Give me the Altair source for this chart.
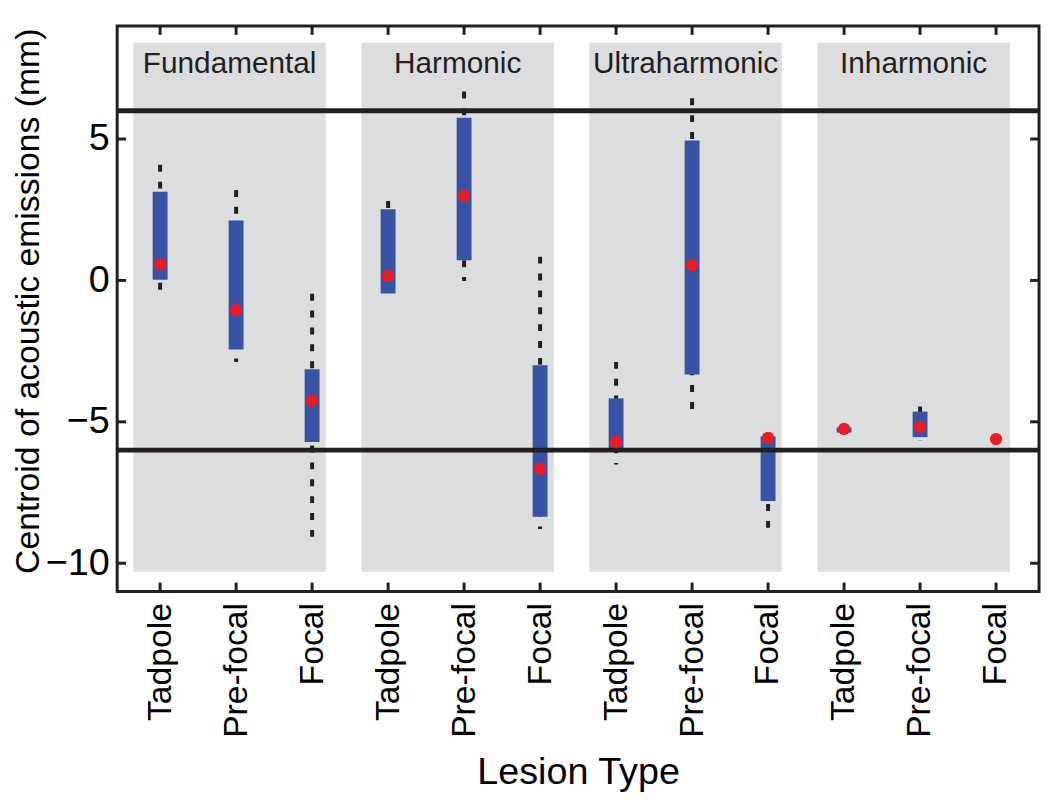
import json
import altair as alt
import pandas as pd

# ---------------- data ----------------
groups = ["Fundamental", "Harmonic", "Ultraharmonic", "Inharmonic"]
lesions = ["Tadpole", "Pre-focal", "Focal"]

median = [0.57, -1.05, -4.25, 0.16, 2.99, -6.66, -5.71, 0.54, -5.57, -5.25, -5.18, -5.61]
box_hi = [3.14, 2.12, -3.14, 2.52, 5.75, -3.00, -4.17, 4.95, -5.52, -5.20, -4.64, -5.61]
box_lo = [0.02, -2.44, -5.71, -0.46, 0.71, -8.36, -6.05, -3.33, -7.80, -5.38, -5.54, -5.61]
whisk_hi = [4.09, 3.20, -0.47, 2.81, 6.68, 0.84, -2.88, 6.44, -5.52, -5.25, -4.46, -5.61]
whisk_lo = [-0.43, -2.88, -9.14, -0.50, -0.02, -8.79, -6.51, -4.60, -9.02, -5.25, -5.66, -5.61]

limits = [6, -6]
y_ticks = [-10, -5, 0, 5]

# ---------------- tables ----------------
n = len(groups) * len(lesions)
idx = list(range(1, n + 1))
df = pd.DataFrame({
    "idx": idx,
    "lesion": [l for g in groups for l in lesions],
    "group": [g for g in groups for _ in lesions],
    "median": median,
    "box_hi": box_hi,
    "box_lo": box_lo,
    "whisk_hi": whisk_hi,
    "whisk_lo": whisk_lo,
})
gdf = pd.DataFrame({
    "group": groups,
    "x0": [3 * k + 0.65 for k in range(len(groups))],
    "x1": [3 * k + 3.18 for k in range(len(groups))],
    "top": [8.4] * len(groups),
    "bottom": [-10.3] * len(groups),
    "ylab": [7.35] * len(groups),
})
gdf["xc"] = (gdf["x0"] + gdf["x1"]) / 2
lim_df = pd.DataFrame({"y": limits})
yt_df = pd.DataFrame({"y": y_ticks})

FONT = "Liberation Sans"
W, H = 929, 570

xscale = alt.Scale(domain=[0.5, n + 0.5], nice=False, zero=False)
yscale = alt.Scale(domain=[-11, 9], nice=False, zero=False)

label_expr = "%s[(datum.value - 1) %% 3]" % json.dumps(lesions)
xaxis = alt.Axis(values=idx, labelExpr=label_expr, labelAngle=270, labelFontSize=34,
                 labelPadding=11, ticks=False, domain=False, grid=False,
                 title="Lesion Type", titleFontSize=38, titleFontWeight="normal",
                 titleY=163, titleX=W / 2, labelColor="black", titleColor="black")
yaxis = alt.Axis(values=y_ticks, labelFontSize=38, labelPadding=8, ticks=False,
                 domain=False, grid=False,
                 title="Centroid of acoustic emissions (mm)", titleFontSize=34,
                 titleFontWeight="normal", titleX=-72, titleY=277,
                 labelColor="black", titleColor="black")


def X(field):
    return alt.X(field, type="quantitative", scale=xscale, axis=xaxis)


def Y(field):
    return alt.Y(field, type="quantitative", scale=yscale, axis=yaxis)


base = alt.Chart(df)

rects = alt.Chart(gdf).mark_rect(color="#dcdddf").encode(
    x=X("x0"), x2="x1", y=Y("top"), y2="bottom")

glabels = alt.Chart(gdf).mark_text(fontSize=30, font=FONT, color="#231f20",
                                   baseline="alphabetic", align="center").encode(
    x=X("xc"), y=Y("ylab"), text="group:N")

whiskers = base.mark_rule(color="#231f20", strokeWidth=4, strokeDash=[7, 10]).encode(
    x=X("idx"), y=Y("whisk_hi"), y2="whisk_lo")

boxes = base.mark_bar(color="#3953a4", size=15).encode(
    x=X("idx"), y=Y("box_hi"), y2="box_lo")

hlines = alt.Chart(lim_df).mark_rule(color="#231f20", strokeWidth=5).encode(
    y=Y("y"))

dots = base.mark_circle(color="#ed1c24", size=155, opacity=1).encode(
    x=X("idx"), y=Y("median"))

tick_l = alt.Chart(yt_df).mark_rule(color="#231f20", strokeWidth=3).encode(
    y=Y("y"), x=alt.value(0), x2=alt.value(9))
tick_r = alt.Chart(yt_df).mark_rule(color="#231f20", strokeWidth=3).encode(
    y=Y("y"), x=alt.value(W - 9), x2=alt.value(W))
tick_b = base.mark_rule(color="#231f20", strokeWidth=3).encode(
    x=X("idx"), y=alt.value(H), y2=alt.value(H - 9))
tick_t = base.mark_rule(color="#231f20", strokeWidth=3).encode(
    x=X("idx"), y=alt.value(0), y2=alt.value(9))

chart = alt.layer(rects, glabels, whiskers, boxes, hlines, dots,
                  tick_l, tick_r, tick_b, tick_t).properties(
    width=W, height=H,
    autosize=alt.AutoSizeParams(type="none"),
    padding={"left": 110, "top": 15, "right": 3, "bottom": 200},
    background="white",
).configure(font=FONT).configure_view(stroke="#231f20", strokeWidth=3)

chart.save("out.html", embed_options={"renderer": "svg", "actions": False})
